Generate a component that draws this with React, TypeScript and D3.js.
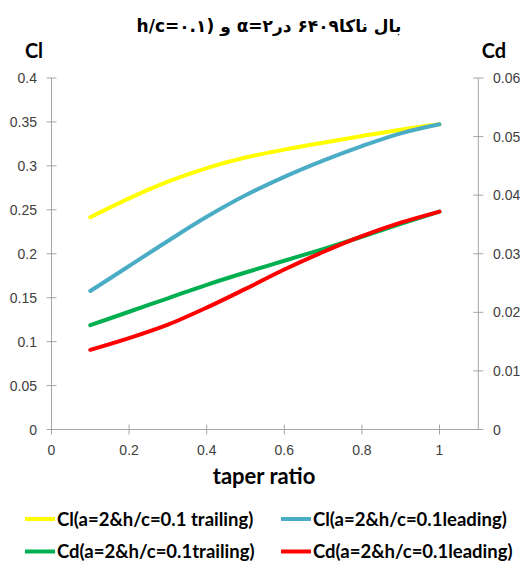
import React from "react";
import * as d3 from "d3";

const taper = [0.1, 0.2, 0.3, 0.4, 0.5, 0.6, 0.7, 0.8, 0.9, 1.0];
const clTrailing = [0.2415, 0.263, 0.282, 0.2975, 0.3095, 0.3185, 0.3264, 0.334, 0.3412, 0.3473];
const clLeading = [0.1576, 0.186, 0.2145, 0.242, 0.2665, 0.2875, 0.306, 0.3225, 0.337, 0.3473];
const cdTrailing = [0.0178, 0.0201, 0.0224, 0.0247, 0.0268, 0.0288, 0.0308, 0.0329, 0.0351, 0.0372];
const cdLeading = [0.0136, 0.0156, 0.0179, 0.0208, 0.024, 0.0273, 0.0303, 0.033, 0.0353, 0.0372];

const xTicks = [0, 0.2, 0.4, 0.6, 0.8, 1];
const clTicks = [0, 0.05, 0.1, 0.15, 0.2, 0.25, 0.3, 0.35, 0.4];
const cdTicks = [0, 0.01, 0.02, 0.03, 0.04, 0.05, 0.06];

const title = "بال ناکا۶۴۰۹ در۲=α و (h/c=۰.۱";
const legendLabels = [
  "Cl(a=2&h/c=0.1 trailing)",
  "Cl(a=2&h/c=0.1leading)",
  "Cd(a=2&h/c=0.1trailing)",
  "Cd(a=2&h/c=0.1leading)",
];

export default function App() {
  const W = 522, H = 563;
  const x = d3.scaleLinear().domain([0, 1.1]).range([51.5, 478.3]);
  const yCl = d3.scaleLinear().domain([0, 0.4]).range([429.5, 78]);
  const yCd = d3.scaleLinear().domain([0, 0.06]).range([429.5, 78]);
  const axisColor = "#a6a6a6";
  const tickFont = "'Liberation Sans', Arial, sans-serif";
  const boldFont = "Lato, 'Open Sans', sans-serif";

  const lineCl = d3.line<number>().x((_, i) => x(taper[i])).y((d) => yCl(d)).curve(d3.curveCatmullRom.alpha(0.5));
  const lineCd = d3.line<number>().x((_, i) => x(taper[i])).y((d) => yCd(d)).curve(d3.curveCatmullRom.alpha(0.5));

  const series = [
    { d: lineCl(clTrailing), color: "#FFFF00" },
    { d: lineCl(clLeading), color: "#4BACC6" },
    { d: lineCd(cdTrailing), color: "#00B050" },
    { d: lineCd(cdLeading), color: "#FF0000" },
  ];

  const legendPos = [
    { lx: 25, ty: 519 },
    { lx: 281, ty: 519 },
    { lx: 25, ty: 551.5 },
    { lx: 281, ty: 551.5 },
  ];

  return (
    <svg width={W} height={H} style={{ position: "absolute", left: 0, top: 0, background: "#fff" }}>
      <rect x={0} y={0} width={W} height={H} fill="#fff" />
      <text x={269} y={32} textAnchor="middle" direction="rtl" fontFamily="'DejaVu Sans', sans-serif" fontWeight="bold" fontSize={17} fill="#000">
        {title}
      </text>
      <text x={34} y={58} textAnchor="middle" fontFamily={boldFont} fontWeight="bold" fontSize={20} fill="#000">Cl</text>
      <text x={494} y={58} textAnchor="middle" fontFamily={boldFont} fontWeight="bold" fontSize={20} fill="#000">Cd</text>

      {/* left axis */}
      <line x1={x(0)} x2={x(0)} y1={yCl(0.4)} y2={yCl(0)} stroke={axisColor} strokeWidth={1} />
      {clTicks.map((t) => (
        <g key={"cl" + t}>
          <line x1={x(0) - 5} x2={x(0) + 5} y1={yCl(t)} y2={yCl(t)} stroke={axisColor} />
          <text x={37} y={yCl(t) + 5} textAnchor="end" fontFamily={tickFont} fontSize={14} fill="#404040">
            {String(+t.toFixed(2))}
          </text>
        </g>
      ))}
      {/* right axis */}
      <line x1={x(1.1)} x2={x(1.1)} y1={yCd(0.06)} y2={yCd(0)} stroke={axisColor} strokeWidth={1} />
      {cdTicks.map((t) => (
        <g key={"cd" + t}>
          <line x1={x(1.1) - 5} x2={x(1.1) + 5} y1={yCd(t)} y2={yCd(t)} stroke={axisColor} />
          <text x={493} y={yCd(t) + 5} textAnchor="start" fontFamily={tickFont} fontSize={14} fill="#404040">
            {t === 0 ? "0" : t.toFixed(2)}
          </text>
        </g>
      ))}
      {/* x axis */}
      <line x1={x(0)} x2={x(1.1)} y1={yCl(0)} y2={yCl(0)} stroke={axisColor} strokeWidth={1} />
      {xTicks.map((t) => (
        <g key={"x" + t}>
          <line x1={x(t)} x2={x(t)} y1={yCl(0) - 5} y2={yCl(0) + 5} stroke={axisColor} />
          <text x={x(t)} y={455} textAnchor="middle" fontFamily={tickFont} fontSize={14} fill="#404040">
            {String(+t.toFixed(1))}
          </text>
        </g>
      ))}
      <text x={264} y={484} textAnchor="middle" fontFamily={boldFont} fontWeight="bold" fontSize={22} fill="#000">taper ratio</text>

      {series.map((s, i) => (
        <path key={i} d={s.d || ""} fill="none" stroke={s.color} strokeWidth={4} strokeLinecap="round" />
      ))}

      {legendPos.map((p, i) => (
        <g key={"lg" + i}>
          <line x1={p.lx} x2={p.lx + 30} y1={p.ty} y2={p.ty} stroke={series[i].color} strokeWidth={4} />
          <text x={p.lx + 32} y={p.ty + 6.5} fontFamily={boldFont} fontWeight="bold" fontSize={18.5} fill="#000">
            {legendLabels[i]}
          </text>
        </g>
      ))}
    </svg>
  );
}
